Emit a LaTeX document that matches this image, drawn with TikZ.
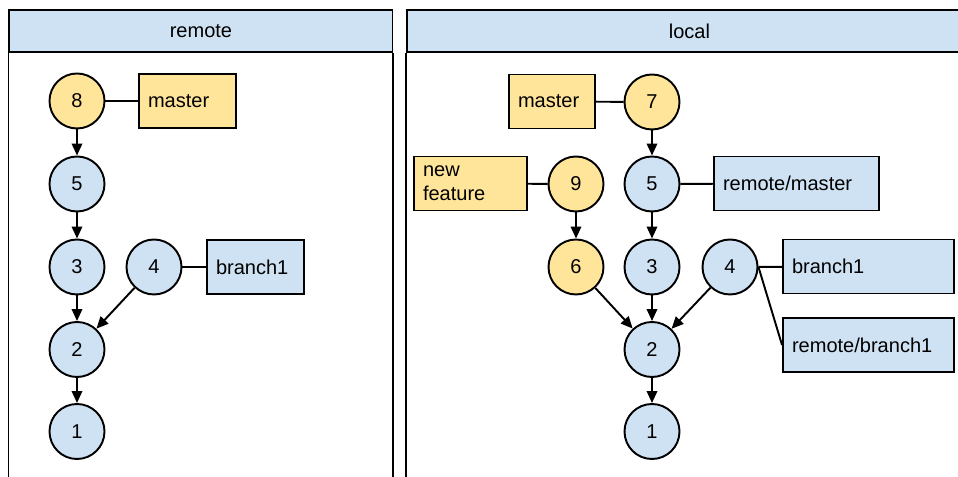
\documentclass[tikz,border=0pt]{standalone}
\usepackage{fontspec}
\setmainfont{Liberation Sans}
\usepackage{xcolor}
\usetikzlibrary{arrows.meta}
\definecolor{gitblue}{HTML}{CFE2F3}
\definecolor{gityellow}{HTML}{FFE599}
\tikzset{every picture/.style={line width=1.1pt}}
\tikzset{
  commit/.style={circle, draw, minimum size=1.1cm, inner sep=0pt},
  pushed/.style={commit, fill=gitblue},
  unpushed/.style={commit, fill=gityellow},
  ref/.style={draw, minimum height=1.08cm, inner xsep=0.18cm, inner ysep=0pt, align=left},
  header/.style={draw, fill=gitblue, minimum height=0.85cm, anchor=north west},
  parent/.style={-{Triangle[length=2.4mm,width=2.1mm]}},
}

\begin{document}
\begin{tikzpicture}[font=\fontsize{11.4}{13.7}\selectfont]
\useasboundingbox (0,0) rectangle (19.16,-9.54);
\clip (0,0) rectangle (19.16,-9.54);
%
\node[header, minimum width=7.66cm] (remotehdr) at (0.17,-0.18) {remote};
\node[header, minimum width=11.3cm] (localhdr) at (8.12,-0.18) {local};
\draw (remotehdr.south west) -- ++(0,-9) (remotehdr.south east) -- ++(0,-9);
\draw (localhdr.south west) -- ++(0,-9);
%
% remote
\node[unpushed] (r8) at (1.54,-2.02) {8};
\node[pushed] (r5) at (1.54,-3.68) {5};
\node[pushed] (r3) at (1.54,-5.34) {3};
\node[pushed] (r4) at (3.08,-5.34) {4};
\node[pushed] (r2) at (1.54,-6.99) {2};
\node[pushed] (r1) at (1.54,-8.63) {1};
\node[ref, fill=gityellow, text width=1.58cm] (rmaster) at (3.75,-2.02) {master};
\node[ref, fill=gitblue, text width=1.58cm] (rbranch) at (5.11,-5.34) {branch1};
\draw[parent] (r8) -- (r5);
\draw[parent] (r5) -- (r3);
\draw[parent] (r3) -- (r2);
\draw[parent] (r4) -- (r2);
\draw[parent] (r2) -- (r1);
\draw (r8) -- (rmaster);
\draw (r4) -- (rbranch);
%
% local
\node[unpushed] (l7) at (13.04,-2.04) {7};
\node[unpushed] (l9) at (11.52,-3.68) {9};
\node[unpushed] (l6) at (11.52,-5.34) {6};
\node[pushed] (l5) at (13.04,-3.68) {5};
\node[pushed] (l3) at (13.04,-5.34) {3};
\node[pushed] (l4) at (14.60,-5.34) {4};
\node[pushed] (l2) at (13.04,-6.99) {2};
\node[pushed] (l1) at (13.04,-8.63) {1};
\node[ref, fill=gityellow, text width=1.36cm] (lmaster) at (11.04,-2.03) {master};
\node[ref, fill=gityellow, text width=1.90cm] (lfeature) at (9.41,-3.67) {new\\feature};
\node[ref, fill=gitblue, text width=2.94cm] (lremmaster) at (15.93,-3.67) {remote/master};
\node[ref, fill=gitblue, text width=3.06cm] (lbranch) at (17.37,-5.33) {branch1};
\node[ref, fill=gitblue, text width=3.06cm] (lrembranch) at (17.37,-6.90) {remote/branch1};
\draw[parent] (l7) -- (l5);
\draw[parent] (l9) -- (l6);
\draw[parent] (l5) -- (l3);
\draw[parent] (l3) -- (l2);
\draw[parent] (l6) -- (l2);
\draw[parent] (l4) -- (l2);
\draw[parent] (l2) -- (l1);
\draw (lmaster) -- (l7);
\draw (lfeature) -- (l9);
\draw (l5) -- (lremmaster);
\draw (l4) -- (lbranch);
\draw (l4.east) -- (lrembranch.west);
\end{tikzpicture}
\end{document}
